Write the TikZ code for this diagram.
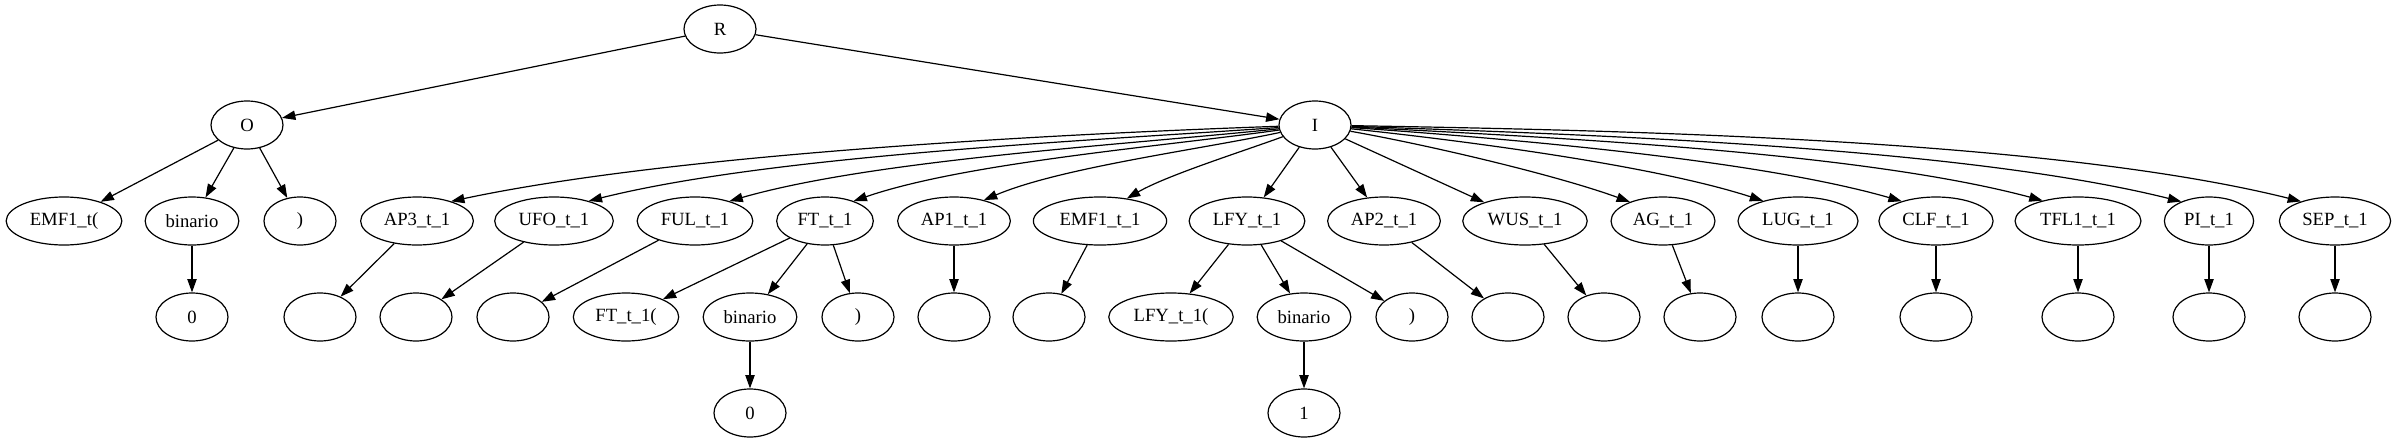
\documentclass[tikz,border=0pt]{standalone}
\usepackage{fontspec}
\setmainfont{Liberation Serif}
\usetikzlibrary{positioning, arrows.meta, shapes.geometric}

\begin{document}
\begin{tikzpicture}[
			on grid,
			node distance=72pt,
			gnode/.style={
				draw,
				ellipse,
				minimum width=54pt,
				minimum height=36pt,
				inner xsep=5pt,
				inner ysep=2pt,
				line width=0.9pt,
				font=\fontsize{14pt}{16pt}\selectfont
			},
			every edge/.style={
				draw,
				-{Triangle[length=10pt,width=7pt]},
				line width=0.9pt
			}
			]
			\useasboundingbox (0,0) rectangle (1797pt,-332.25pt);

			% Root and first level
			\node[gnode] (R) at (540pt,-21.75pt) {R};
			\node[gnode] (O) [below left=72pt and 354.75pt of R] {O};
			\node[gnode] (I) [below right=72pt and 446.25pt of R] {I};

			% Second level
			\node[gnode] (emfo) [below left=72pt and 137.25pt of O] {EMF1\_t(};
			\node[gnode] (bino) [right=96pt of emfo] {binario};
			\node[gnode] (paro) [right=81pt of bino] {)};
			\node[gnode] (ap3) [right=87.75pt of paro] {AP3\_t\_1};
			\node[gnode] (ufo) [right=102.75pt of ap3] {UFO\_t\_1};
			\node[gnode] (ful) [right=105.75pt of ufo] {FUL\_t\_1};
			\node[gnode] (ft) [right=97.5pt of ful] {FT\_t\_1};
			\node[gnode] (ap1) [right=96.75pt of ft] {AP1\_t\_1};
			\node[gnode] (emf1) [right=109.5pt of ap1] {EMF1\_t\_1};
			\node[gnode] (lfy) [right=110.25pt of emf1] {LFY\_t\_1};
			\node[gnode] (ap2) [right=102.75pt of lfy] {AP2\_t\_1};
			\node[gnode] (wus) [right=105.75pt of ap2] {WUS\_t\_1};
			\node[gnode] (ag) [right=103.5pt of wus] {AG\_t\_1};
			\node[gnode] (lug) [right=101.25pt of ag] {LUG\_t\_1};
			\node[gnode] (clf) [right=103.5pt of lug] {CLF\_t\_1};
			\node[gnode] (tfl1) [right=106.5pt of clf] {TFL1\_t\_1};
			\node[gnode] (pi) [right=98.25pt of tfl1] {PI\_t\_1};
			\node[gnode] (sep) [right=94.5pt of pi] {SEP\_t\_1};

			% Third level
			\node[gnode] (zo) [below=of bino] {0};
			\node[gnode] (eap3) [right=96pt of zo] {};
			\node[gnode] (eufo) [right=72pt of eap3] {};
			\node[gnode] (eful) [right=72.75pt of eufo] {};
			\node[gnode] (ftl) [right=84.75pt of eful] {FT\_t\_1(};
			\node[gnode] (binft) [right=93pt of ftl] {binario};
			\node[gnode] (ftr) [right=81pt of binft] {)};
			\node[gnode] (eap1) [below=of ap1] {};
			\node[gnode] (eemf) [right=71.25pt of eap1] {};
			\node[gnode] (lfyl) [right=91.5pt of eemf] {LFY\_t\_1(};
			\node[gnode] (binlfy) [right=99.75pt of lfyl] {binario};
			\node[gnode] (lfyr) [right=81pt of binlfy] {)};
			\node[gnode] (eap2) [right=72pt of lfyr] {};
			\node[gnode] (ewus) [right=72pt of eap2] {};
			\node[gnode] (eag) [right=72pt of ewus] {};
			\node[gnode] (elug) [below=of lug] {};
			\node[gnode] (eclf) [below=of clf] {};
			\node[gnode] (etfl) [below=of tfl1] {};
			\node[gnode] (epi) [below=of pi] {};
			\node[gnode] (esep) [below=of sep] {};

			% Fourth level
			\node[gnode] (zft) [below=of binft] {0};
			\node[gnode] (one) [below=of binlfy] {1};

			% Edges from the top
			\path
			(R) edge (O)
			(R) edge (I)
			(O) edge (emfo)
			(O) edge (bino)
			(O) edge (paro)
			(bino) edge (zo);

			% Fan out of I
			\path
			(I.182) edge [out=182, in=12, looseness=0.7] (ap3.30)
			(I.184) edge [out=184, in=14, looseness=0.7] (ufo.30)
			(I.186) edge [out=186, in=16, looseness=0.7] (ful.30)
			(I.188) edge [out=188, in=19, looseness=0.7] (ft.35)
			(I.192) edge [out=192, in=23, looseness=0.7] (ap1.35)
			(I.200) edge [out=200, in=30, looseness=0.7] (emf1.40)
			(I) edge (lfy)
			(I) edge (ap2)
			(I) edge (wus)
			(I.-10) edge [out=-10, in=160, looseness=0.7] (ag.150)
			(I.-6) edge [out=-6, in=162, looseness=0.7] (lug.150)
			(I.-4) edge [out=-4, in=164, looseness=0.7] (clf.150)
			(I.-3) edge [out=-3, in=165, looseness=0.7] (tfl1.150)
			(I.-2) edge [out=-2, in=166, looseness=0.7] (pi.145)
			(I.-1) edge [out=-1, in=166, looseness=0.7] (sep.150);

			% Lower levels
			\path
			(ap3) edge (eap3)
			(ufo) edge (eufo)
			(ful) edge (eful)
			(ft) edge (ftl)
			(ft) edge (binft)
			(ft) edge (ftr)
			(binft) edge (zft)
			(ap1) edge (eap1)
			(emf1) edge (eemf)
			(lfy) edge (lfyl)
			(lfy) edge (binlfy)
			(lfy) edge (lfyr)
			(binlfy) edge (one)
			(ap2) edge (eap2)
			(wus) edge (ewus)
			(ag) edge (eag)
			(lug) edge (elug)
			(clf) edge (eclf)
			(tfl1) edge (etfl)
			(pi) edge (epi)
			(sep) edge (esep);
		\end{tikzpicture}
\end{document}
